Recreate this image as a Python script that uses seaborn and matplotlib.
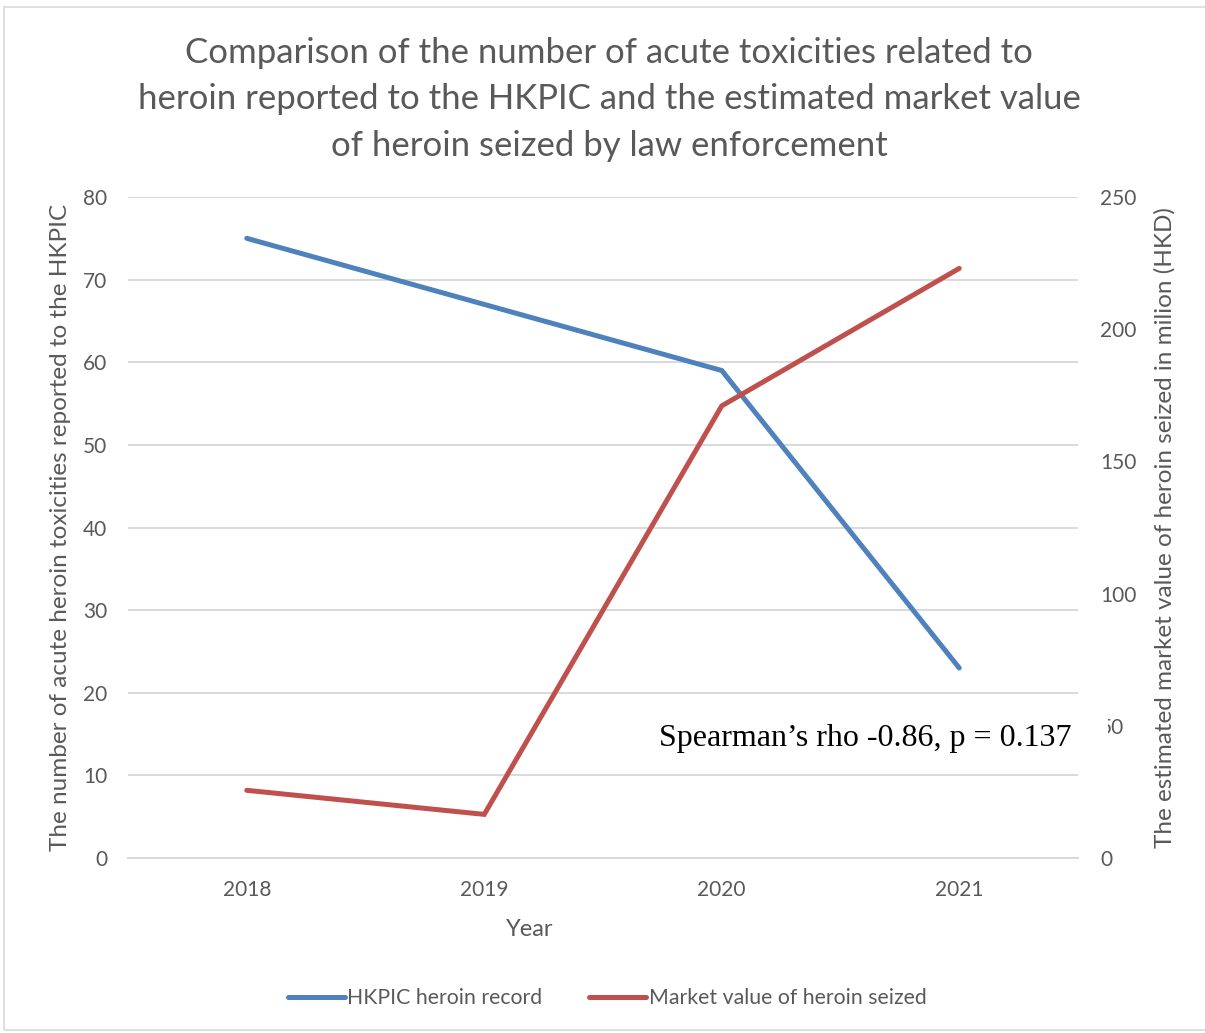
import matplotlib
matplotlib.use("Agg")
import matplotlib.pyplot as plt
import seaborn as sns
import pandas as pd
from matplotlib.patches import Rectangle
from matplotlib.lines import Line2D

years = ["2018", "2019", "2020", "2021"]
hkpic_cases = [75, 67, 59, 23]
market_value = [25.6, 16.5, 171, 223]

left_ticks = [0, 10, 20, 30, 40, 50, 60, 70, 80]
right_ticks = [0, 50, 100, 150, 200, 250]

BLUE = "#4F81BD"
RED = "#C0504D"
GREY = "#595959"
GRID = "#D9D9D9"

sns.set_theme(style="white")
plt.rcParams["font.family"] = ["Lato", "DejaVu Sans"]

df = pd.DataFrame({"Year": years, "cases": hkpic_cases, "value": market_value})

fig = plt.figure(figsize=(12.05, 10.33), dpi=100)
ax = fig.add_axes([128 / 1205, 1 - 858 / 1033, 950 / 1205, 661 / 1033])
ax2 = ax.twinx()

sns.lineplot(data=df, x="Year", y="cases", ax=ax, color=BLUE, lw=3.6,
             solid_capstyle="round", solid_joinstyle="miter", sort=False)
sns.lineplot(data=df, x="Year", y="value", ax=ax2, color=RED, lw=3.6,
             solid_capstyle="round", solid_joinstyle="miter", sort=False)

ax.set_xlim(-0.5, 3.5)
ax.set_ylim(0, 80)
ax2.set_ylim(0, 250)
ax.set_yticks(left_ticks)
ax2.set_yticks(right_ticks)

ax.yaxis.grid(True, color=GRID, lw=1.4)
ax.set_axisbelow(True)
for a in (ax, ax2):
    for s in a.spines.values():
        s.set_visible(False)
    a.tick_params(length=0, colors=GREY, labelsize=15)
ax.spines["bottom"].set_visible(True)
ax.spines["bottom"].set_color(GRID)
ax.spines["bottom"].set_linewidth(1.4)
ax.tick_params(axis="y", pad=15)
ax.tick_params(axis="x", pad=16)
ax2.tick_params(axis="y", pad=16)

ax.set_xlabel("Year", color=GREY, fontsize=17)
ax.xaxis.set_label_coords(0.423, -0.092)
ax.set_ylabel("The number of acute heroin toxicities reported to the HKPIC",
              color=GREY, fontsize=17.5)
ax.yaxis.set_label_coords(-0.06, 0.5)
ax2.set_ylabel("The estimated market value of heroin seized in milion (HKD)",
               color=GREY, fontsize=17.5)
ax2.yaxis.set_label_coords(1.08, 0.5)

fig.suptitle("Comparison of the number of acute toxicities related to\n"
             "heroin reported to the HKPIC and the estimated market value\n"
             "of heroin seized by law enforcement",
             x=609 / 1205, y=1 - 37 / 1033, va="top", color=GREY,
             fontsize=25, linespacing=1.55)

ax2.text(0.993, 0.1815, "Spearman\u2019s rho -0.86, p = 0.137", transform=ax.transAxes,
         ha="right", va="center", fontsize=23, color="black",
         family=["Liberation Serif", "DejaVu Serif"], zorder=10,
         bbox=dict(facecolor="white", edgecolor="none", pad=6))
# white strip of the annotation box reaching over the right tick column
ax2.add_patch(Rectangle((1070 / 1205, 1 - 752 / 1033), 38 / 1205, 42 / 1033,
                        transform=fig.transFigure, facecolor="white",
                        edgecolor="none", zorder=9, clip_on=False))

handles = [Line2D([], [], color=BLUE, lw=3.6, solid_capstyle="round"),
           Line2D([], [], color=RED, lw=3.6, solid_capstyle="round")]
fig.legend(handles, ["HKPIC heroin record", "Market value of heroin seized"],
           loc="center", bbox_to_anchor=(607 / 1205, 1 - 998 / 1033), ncol=2,
           frameon=False, fontsize=15.3, handlelength=2.7, handletextpad=0.1,
           columnspacing=2.2, labelcolor=GREY)

fig.patches.append(Rectangle((4 / 1205, 3 / 1033), 1.2, 1 - 10 / 1033,
                             transform=fig.transFigure, fill=False,
                             edgecolor=GRID, lw=1.2))

fig.savefig("out.png", dpi=100)
